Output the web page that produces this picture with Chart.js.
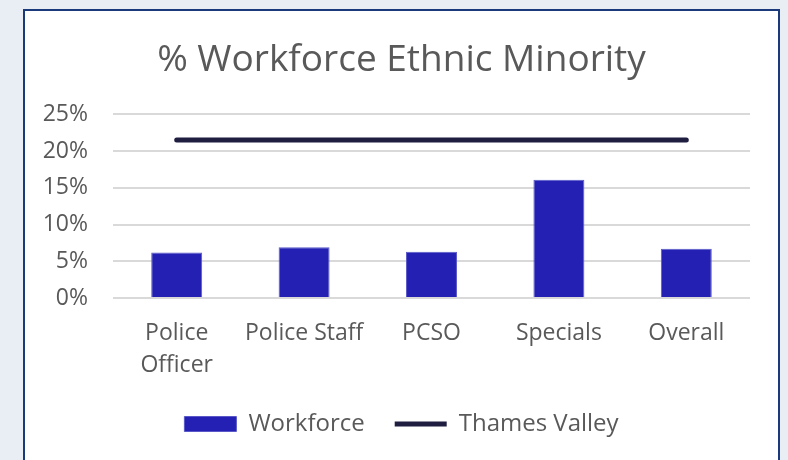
<!DOCTYPE html>
<html>
<head>
<meta charset="utf-8">
<script src="https://cdn.jsdelivr.net/npm/chart.js@4.4.1/dist/chart.umd.min.js"></script>
<style>
    html, body {
        margin: 0;
        padding: 0;
        background: #e9eef5;
        overflow: hidden;
    }
    .frame {
        position: absolute;
        left: 23px;
        top: 9px;
        width: 753px;
        height: 470px;
        background: #fff;
        border: 2px solid #1b3a7b;
    }
</style>
</head>
<body>
<div class="frame">
    <canvas id="chart" width="753" height="449"></canvas>
</div>
<script>
// Chart data
const categories = [['Police', 'Officer'], 'Police Staff', 'PCSO', 'Specials', 'Overall'];
const workforce = [6.2, 6.9, 6.3, 16.1, 6.7];
const thamesValley = [21.5, 21.5, 21.5, 21.5, 21.5];
const yTicks = [0, 5, 10, 15, 20, 25];

const textColor = '#595959';
const fontFamily = "'Open Sans', sans-serif";

new Chart(document.getElementById('chart'), {
    type: 'bar',
    data: {
        labels: categories,
        datasets: [{
            label: 'Workforce',
            data: workforce,
            backgroundColor: '#2320b3',
            borderColor: '#5a58c9',
            borderWidth: 1,
            categoryPercentage: 0.8,
            barPercentage: 0.5,
            order: 1
        }, {
            type: 'line',
            label: 'Thames Valley',
            data: thamesValley,
            borderColor: '#1f1d40',
            backgroundColor: '#1f1d40',
            borderWidth: 5,
            borderCapStyle: 'round',
            pointRadius: 0,
            fill: false,
            order: 0
        }]
    },
    options: {
        responsive: false,
        animation: false,
        layout: {
            padding: { left: 0, right: 0, top: 0, bottom: 14 }
        },
        plugins: {
            title: {
                display: true,
                text: '% Workforce Ethnic Minority',
                color: textColor,
                font: { family: fontFamily, size: 37, weight: 'normal' },
                padding: { top: 27, bottom: 32 }
            },
            legend: {
                position: 'bottom',
                labels: {
                    color: textColor,
                    font: { family: fontFamily, size: 24 },
                    usePointStyle: true,
                    pointStyleWidth: 52,
                    boxHeight: 15,
                    padding: 30,
                    sort: (a, b) => a.datasetIndex - b.datasetIndex,
                    generateLabels: function(chart) {
                        const items = Chart.defaults.plugins.legend.labels.generateLabels(chart);
                        items.forEach(item => {
                            item.pointStyle = item.datasetIndex === 0 ? 'rect' : 'line';
                        });
                        return items;
                    }
                }
            },
            tooltip: { enabled: false }
        },
        scales: {
            x: {
                afterFit: function(scale) {
                    scale.height = 84;
                },
                grid: { display: false },
                border: { display: false },
                ticks: {
                    color: textColor,
                    font: { family: fontFamily, size: 23, lineHeight: 1.37 },
                    maxRotation: 0,
                    autoSkip: false,
                    padding: 12
                }
            },
            y: {
                min: 0,
                max: 25,
                afterFit: function(scale) {
                    scale.width = 88;
                },
                afterBuildTicks: function(scale) {
                    scale.ticks = yTicks.map(v => ({ value: v }));
                },
                grid: {
                    color: '#d9d9d9',
                    lineWidth: 2,
                    drawTicks: false
                },
                border: { display: false },
                ticks: {
                    color: textColor,
                    font: { family: fontFamily, size: 23 },
                    padding: 25,
                    callback: v => v + '%'
                }
            },
            // empty axis on the right, keeps the plot off the frame edge
            yRight: {
                position: 'right',
                afterFit: function(scale) {
                    scale.width = 28;
                },
                grid: { display: false },
                border: { display: false },
                ticks: { display: false }
            }
        }
    }
});
</script>
</body>
</html>
